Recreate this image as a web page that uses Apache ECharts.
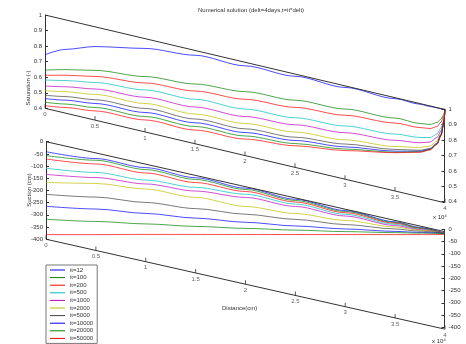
<!DOCTYPE html>
<html><head><meta charset="utf-8">
<script src="https://cdn.jsdelivr.net/npm/echarts@6/dist/echarts.min.js"></script>
<style>html,body{margin:0;padding:0;background:#fff}#c{width:466px;height:344px}</style>
</head><body><div id="c"></div><script>
// ---- data ----
const iterNames = ['it=12','it=100','it=200','it=500','it=1000','it=2000','it=5000','it=10000','it=20000','it=50000'];
const lineColors = ['#0000ff','#008000','#ff0000','#00bfbf','#bf00bf','#bfbf00','#404040','#0000ff','#008000','#ff0000'];

// Saturation (top panel), distance in cm
const satDist = [0, 2000, 5000, 10000, 15000, 20000, 25000, 30000, 35000, 37500, 38500, 39200, 39600, 39850, 40000];
const satIt12    = [0.745,0.809,0.873,0.937,0.969,0.977,0.986,0.990,0.994,0.996,0.997,0.998,0.999,0.9995,1];
const satIt100   = [0.646,0.679,0.720,0.756,0.784,0.811,0.832,0.851,0.869,0.872,0.881,0.904,0.933,0.962,1];
const satIt200   = [0.612,0.643,0.681,0.715,0.739,0.762,0.786,0.811,0.837,0.846,0.855,0.878,0.913,0.949,1];
const satIt500   = [0.582,0.609,0.642,0.670,0.686,0.699,0.719,0.742,0.766,0.782,0.797,0.830,0.875,0.924,1];
const satIt1000  = [0.543,0.569,0.600,0.623,0.636,0.651,0.674,0.699,0.726,0.748,0.768,0.808,0.856,0.917,1];
const satIt2000  = [0.513,0.537,0.565,0.583,0.591,0.606,0.627,0.653,0.686,0.718,0.742,0.785,0.843,0.911,1];
const satIt5000  = [0.484,0.506,0.531,0.551,0.559,0.572,0.594,0.626,0.667,0.700,0.726,0.772,0.833,0.904,1];
const satIt10000 = [0.462,0.483,0.507,0.525,0.535,0.548,0.573,0.608,0.656,0.694,0.722,0.769,0.830,0.901,1];
const satIt20000 = [0.439,0.458,0.481,0.499,0.511,0.526,0.553,0.594,0.649,0.690,0.719,0.766,0.827,0.898,1];
const satIt50000 = [0.417,0.436,0.459,0.477,0.488,0.506,0.539,0.584,0.646,0.687,0.717,0.764,0.823,0.896,1];
const satInitDist = [0, 40000];
const satInit = [1, 1];

// Suction (bottom panel), cm
const sucDist = [0, 5000, 10000, 15000, 20000, 25000, 30000, 35000, 37500, 40000];
const sucIt12    = [-41,-23,-14,-9.5,-6,-5.5,-5.5,-5.5,-6,-6.5];
const sucIt100   = [-57,-30,-22,-16.6,-11.5,-10.5,-9.4,-8.4,-7.9,-7.4];
const sucIt200   = [-71,-45,-36,-29,-19.7,-16.6,-14.4,-11.7,-9.9,-7.4];
const sucIt500   = [-109,-80,-65,-49,-31,-25,-21,-16,-12,-7.4];
const sucIt1000  = [-134,-101,-81,-64,-44,-35,-28,-21,-15,-7.4];
const sucIt2000  = [-167,-125,-102,-90,-81,-64,-46,-27,-17,-7.4];
const sucIt5000  = [-216,-181,-157,-136,-113,-88,-63,-35,-21,-7.4];
const sucIt10000 = [-265,-230,-202,-175,-146,-115,-81,-45,-26,-7.4];
const sucIt20000 = [-318,-281,-245,-209,-171,-132,-92,-50,-29,-7.4];
const sucIt50000 = [-381,-335,-288,-242,-196,-150,-104,-58,-35,-11.5];
const sucInitDist = [0, 40000];
const sucInit = [0, 0];

// Distance axis ticks (cm) and their labels (x 10^4)
const distTicks = [0,5000,10000,15000,20000,25000,30000,35000,40000];
const distTickLabels = ['0','0.5','1','1.5','2','2.5','3','3.5','4'];
const satRange = [0.4, 1];
const sucRange = [-400, 0];

const satSeries = [satIt12,satIt100,satIt200,satIt500,satIt1000,satIt2000,satIt5000,satIt10000,satIt20000,satIt50000];
const sucSeries = [sucIt12,sucIt100,sucIt200,sucIt500,sucIt1000,sucIt2000,sucIt5000,sucIt10000,sucIt20000,sucIt50000];

// ---- oblique (3-D view) projection: vertical value sheared by distance ----
const XMAX = 40000;
const kTop = 0.6077;   // shear of the saturation panel (value units over full distance)
const kBot = 369.2;    // shear of the suction panel
const shear = (xs, zs, k) => xs.map((x, i) => [x, zs[i] - k * x / XMAX]);

const FONT = 'Liberation Sans, Arial, sans-serif';
const AX = '#333';
const lab = {fontSize: 6, color: AX, fontFamily: FONT};

function valueAxisGrid(gi, min, max, interval, pos){
  return {gridIndex: gi, type: 'value', min, max, interval, position: pos,
    axisLine: {show: true, lineStyle: {color: AX, width: 1}},
    axisTick: {show: true, inside: true, length: 3, lineStyle: {color: AX}},
    axisLabel: Object.assign({margin: 3, formatter: v => String(+v.toFixed(2))}, lab),
    splitLine: {show: false}};
}
const hiddenX = gi => ({gridIndex: gi, type: 'value', min: 0, max: XMAX, show: false});

const series = [];
function addPanel(gi, xs, list, k, initX, initZ, baseZ){
  list.forEach((zs, i) => series.push({
    type: 'line', name: iterNames[i], xAxisIndex: gi, yAxisIndex: gi,
    data: shear(xs, zs, k), symbol: 'none', smooth: 0.3, smoothMonotone: 'x',
    lineStyle: {width: 1, color: lineColors[i], opacity: 0.7}, itemStyle: {color: lineColors[i]},
    silent: true, z: 3
  }));
  series.push({type: 'line', xAxisIndex: gi, yAxisIndex: gi, data: shear(initX, initZ, k),
    symbol: 'none', lineStyle: {width: 1, color: AX}, silent: true, z: 4});
  // oblique distance axis
  series.push({type: 'line', xAxisIndex: gi, yAxisIndex: gi,
    data: shear([0, XMAX], [baseZ, baseZ], k), symbol: 'none',
    lineStyle: {width: 1, color: AX}, silent: true, z: 4});
  series.push({type: 'scatter', xAxisIndex: gi, yAxisIndex: gi,
    data: shear(distTicks, distTicks.map(() => baseZ), k),
    symbol: 'rect', symbolSize: [1, 4], symbolOffset: [0, -2],
    itemStyle: {color: AX}, silent: true, z: 4,
    label: Object.assign({show: true, position: 'bottom', distance: 3,
      formatter: p => distTickLabels[p.dataIndex]}, lab)});
}
addPanel(0, satDist, satSeries, kTop, satInitDist, satInit, satRange[0]);
addPanel(3, sucDist, sucSeries, kBot, sucInitDist, sucInit, sucRange[0]);

const option = {
  animation: false,
  backgroundColor: '#fff',
  textStyle: {fontFamily: FONT},
  grid: [
    {left: 45, top: 15, width: 400, height: 187.8},
    {left: 45, top: 15, width: 1, height: 93.3},
    {left: 444.5, top: 109.3, width: 1, height: 92.4},
    {left: 46, top: 141.7, width: 399, height: 187.5},
    {left: 46, top: 141.7, width: 1, height: 97.5},
    {left: 444.5, top: 229.3, width: 1, height: 98}
  ],
  xAxis: [0,1,2,3,4,5].map(hiddenX),
  yAxis: [
    {gridIndex: 0, type: 'value', min: satRange[0] - kTop, max: satRange[1], show: false},
    valueAxisGrid(1, satRange[0], satRange[1], 0.1, 'left'),
    valueAxisGrid(2, satRange[0], satRange[1], 0.1, 'right'),
    {gridIndex: 3, type: 'value', min: sucRange[0] - kBot, max: sucRange[1], show: false},
    valueAxisGrid(4, sucRange[0], sucRange[1], 50, 'left'),
    valueAxisGrid(5, sucRange[0], sucRange[1], 50, 'right')
  ],
  legend: {
    data: iterNames, orient: 'vertical', left: 46, top: 265, height: 100,
    padding: [2, 4, 2, 4], icon: 'rect', itemWidth: 15, itemHeight: 1, itemGap: 1.6, itemTextGap: 3,
    borderColor: '#777', borderWidth: 1, backgroundColor: '#fff',
    textStyle: {fontSize: 6, lineHeight: 6, color: AX, fontFamily: FONT},
    selectedMode: false
  },
  graphic: [
    {type: 'text', x: 198, y: 10, style: {text: 'Numerical solution (delt=4days,t=it*delt)', fontSize: 6, fill: AX, fontFamily: FONT, textVerticalAlign: 'middle'}},
    {type: 'text', x: 28, y: 88, rotation: Math.PI/2, style: {text: 'Saturation (-)', fontSize: 6, fill: AX, fontFamily: FONT, textAlign: 'center', textVerticalAlign: 'middle'}},
    {type: 'text', x: 29, y: 190, rotation: Math.PI/2, style: {text: 'Suction (cm)', fontSize: 6, fill: AX, fontFamily: FONT, textAlign: 'center', textVerticalAlign: 'middle'}},
    {type: 'text', x: 222, y: 308, style: {text: 'Distance(cm)', fontSize: 6, fill: AX, fontFamily: FONT, textVerticalAlign: 'middle'}},
    {type: 'text', x: 433, y: 217, style: {text: 'x 10⁴', fontSize: 6, fill: AX, fontFamily: FONT, textVerticalAlign: 'middle'}},
    {type: 'text', x: 432, y: 341, style: {text: 'x 10⁴', fontSize: 6, fill: AX, fontFamily: FONT, textVerticalAlign: 'middle'}}
  ],
  series
};
echarts.init(document.getElementById('c'), null, {renderer: 'canvas'}).setOption(option);
</script></body></html>
